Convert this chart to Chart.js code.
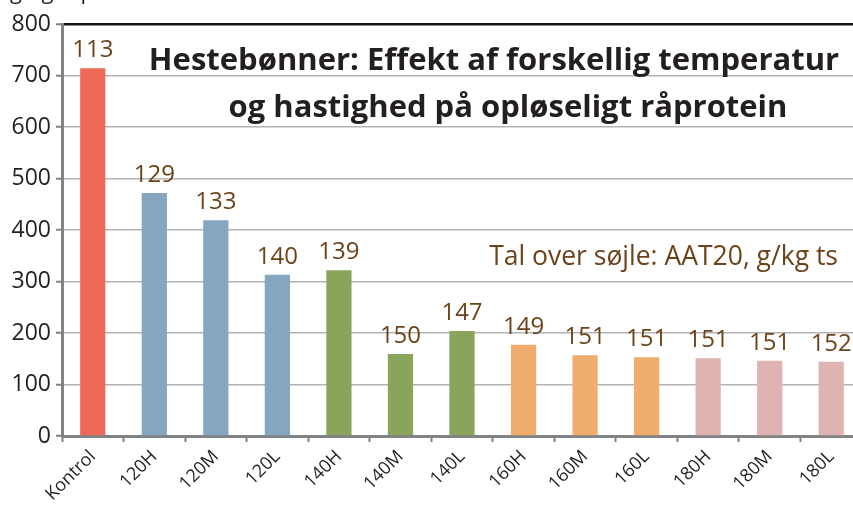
<!DOCTYPE html>
<html>
<head>
<meta charset="utf-8">
<script src="https://cdn.jsdelivr.net/npm/chart.js@4.4.1/dist/chart.umd.min.js"></script>
<style>
  html, body { margin: 0; padding: 0; background: #fff; overflow: hidden; }
  #wrap { position: relative; width: 862px; height: 506px; }
</style>
</head>
<body>
<div id="wrap"><canvas id="chart"></canvas></div>
<script>
// Hestebønner – opløseligt råprotein (g/kg råprotein) og AAT20 (g/kg ts)
const categories = ['Kontrol', '120H', '120M', '120L', '140H', '140M', '140L', '160H', '160M', '160L', '180H', '180M', '180L'];
const solubleProtein = [714, 472, 419, 313, 322, 159, 204, 177, 157, 153, 151, 146, 144];
const aat20 = [113, 129, 133, 140, 139, 150, 147, 149, 151, 151, 151, 151, 152];
const yTicks = [0, 100, 200, 300, 400, 500, 600, 700, 800];

const groupColors = {
    kontrol: '#ee6a57',
    t120: '#84a6c1',
    t140: '#8aa55b',
    t160: '#f1ad6e',
    t180: '#deb3b2'
};

function barColor(label) {
    if (label === 'Kontrol') return groupColors.kontrol;
    return groupColors['t' + label.slice(0, 3)];
}

const textDark = '#231f20';
const textBrown = '#6c4319';
const axisGray = '#808285';

const valueLabels = {
    id: 'valueLabels',
    afterDatasetsDraw(chart) {
        const ctx = chart.ctx;
        const meta = chart.getDatasetMeta(0);
        ctx.save();
        ctx.font = '24px "Open Sans"';
        ctx.fillStyle = textBrown;
        ctx.textAlign = 'center';
        ctx.textBaseline = 'alphabetic';
        meta.data.forEach((bar, i) => {
            ctx.fillText(String(aat20[i]), bar.x, bar.y - 11);
        });
        ctx.restore();
    }
};

const titles = {
    id: 'titles',
    afterDraw(chart) {
        const ctx = chart.ctx;
        ctx.save();
        ctx.fillStyle = textDark;
        ctx.textAlign = 'center';
        ctx.textBaseline = 'alphabetic';
        ctx.font = 'bold 31px "Open Sans"';
        ctx.fillText('Hestebønner: Effekt af forskellig temperatur', 494, 70);
        ctx.fillText('og hastighed på opløseligt råprotein', 508, 117);

        ctx.fillStyle = textBrown;
        ctx.font = '26.5px "Open Sans"';
        ctx.textAlign = 'right';
        ctx.fillText('Tal over søjle: AAT20, g/kg ts', 838, 265);

        // y-axis title, cut off at the top of the picture
        ctx.fillStyle = textDark;
        ctx.font = '22px "Open Sans"';
        ctx.textAlign = 'left';
        ctx.fillText('g/kg råprotein', 10, -1);
        ctx.restore();
    }
};

new Chart(document.getElementById('chart'), {
    type: 'bar',
    data: {
        labels: categories,
        datasets: [{
            data: solubleProtein,
            backgroundColor: categories.map(barColor),
            borderWidth: 0,
            categoryPercentage: 1,
            barPercentage: 0.41
        }]
    },
    options: {
        responsive: true,
        maintainAspectRatio: false,
        animation: false,
        layout: { padding: { top: 24, right: 0, left: 0, bottom: 0 } },
        plugins: {
            legend: { display: false },
            tooltip: { enabled: false }
        },
        scales: {
            x: {
                offset: true,
                grid: {
                    offset: true,
                    drawOnChartArea: false,
                    tickLength: 6,
                    tickWidth: 2,
                    tickColor: axisGray
                },
                border: { color: axisGray, width: 3 },
                ticks: {
                    color: textDark,
                    font: { family: 'Open Sans', size: 18 },
                    minRotation: 45,
                    maxRotation: 45,
                    padding: 4,
                    autoSkip: false
                },
                afterFit(scale) { scale.height = 70; }
            },
            y: {
                min: 0,
                max: 800,
                afterBuildTicks(scale) {
                    scale.ticks = yTicks.map(v => ({ value: v }));
                },
                grid: {
                    color: ctx => ctx.tick && ctx.tick.value === 800 ? '#111111' : '#b3b3b3',
                    lineWidth: ctx => ctx.tick && ctx.tick.value === 800 ? 2.5 : 1.5,
                    tickLength: 6,
                    tickColor: axisGray,
                    tickWidth: 2
                },
                border: { color: axisGray, width: 3 },
                ticks: {
                    color: textDark,
                    font: { family: 'Open Sans', size: 23 },
                    padding: 5
                },
                afterFit(scale) { scale.width = 62; }
            }
        }
    },
    plugins: [valueLabels, titles]
});
</script>
</body>
</html>
